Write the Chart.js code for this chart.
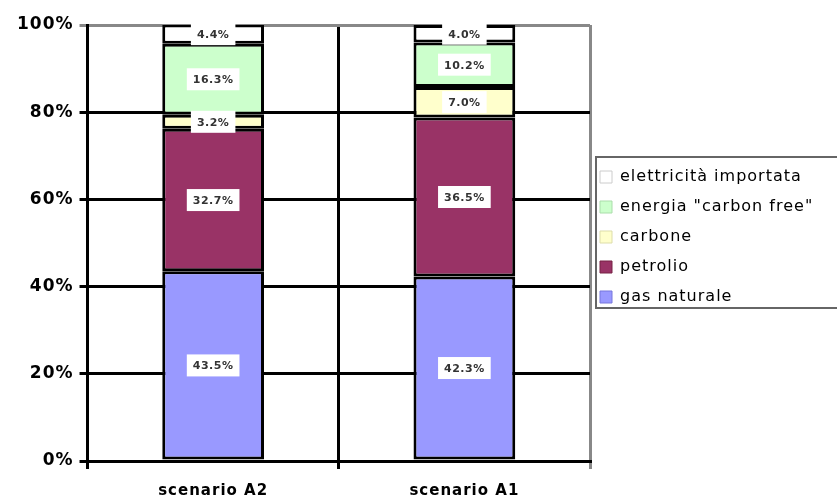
<!DOCTYPE html>
<html>
<head>
<meta charset="utf-8">
<script src="https://cdn.jsdelivr.net/npm/chart.js@4/dist/chart.umd.min.js"></script>
<style>
  html, body { margin: 0; padding: 0; background: #fff; }
  #wrap { width: 837px; height: 500px; position: relative; }
</style>
</head>
<body>
<div id="wrap"><canvas id="chartMix"></canvas></div>
<script>
// categories and series (percent of total)
var scenarios = ['scenario A2', 'scenario A1'];
var gasNaturale = [43.5, 42.3];
var petrolio = [32.7, 36.5];
var carbone = [3.2, 7.0];
var carbonFree = [16.3, 10.2];
var elettricita = [4.4, 4.0];
var yTicks = [0, 20, 40, 60, 80, 100];

var FONT = '"DejaVu Sans", "Liberation Sans", Arial, sans-serif';

// the original text is a bit stretched, widen it slightly
var wideText = {
    id: 'wideText',
    beforeLayout: function (chart) {
        chart.ctx.letterSpacing = '1px';
        var lg = chart.legend;
        if (lg && !lg._fitPatched) {
            var origFit = lg.fit;
            lg.fit = function () {
                origFit.call(this);
                this.width = 247;
            };
            lg._fitPatched = true;
        }
    },
    afterLayout: function (chart) {
        // put the legend block beside the plot, a bit above the middle
        var lg = chart.legend;
        lg.left = chart.chartArea.right - 4;
        lg.right = lg.left + 247;
        lg.top = 155;
        lg.bottom = 320;
        lg.height = lg.bottom - lg.top;
    },
    beforeDraw: function (chart) {
        chart.ctx.letterSpacing = '1px';
    }
};

// white boxed value labels in the middle of each segment
var segLabels = {
    id: 'segLabels',
    afterDatasetsDraw: function (chart) {
        var ctx = chart.ctx;
        ctx.save();
        ctx.letterSpacing = '0.5px';
        ctx.font = 'bold 11px ' + FONT;
        ctx.textAlign = 'center';
        ctx.textBaseline = 'middle';
        chart.data.datasets.forEach(function (ds, i) {
            var meta = chart.getDatasetMeta(i);
            meta.data.forEach(function (bar, j) {
                var txt = ds.data[j].toFixed(1) + '%';
                var cy = (bar.y + bar.base) / 2;
                var w = ctx.measureText(txt).width + 12;
                ctx.fillStyle = '#fff';
                ctx.fillRect(bar.x - w / 2, cy - 11, w, 22);
                ctx.fillStyle = '#333';
                ctx.fillText(txt, bar.x, cy + 1);
            });
        });
        ctx.restore();
    }
};

// frame around the legend
var legendFrame = {
    id: 'legendFrame',
    afterDraw: function (chart) {
        var lg = chart.legend;
        var ctx = chart.ctx;
        ctx.save();
        ctx.strokeStyle = '#666';
        ctx.lineWidth = 2;
        ctx.strokeRect(lg.left + 10, lg.top + 2, 260, 151);
        ctx.restore();
    }
};

// legend swatch outlines are soft, not black
var swatchEdges = ['#7777DD', '#772244', '#DDDDAA', '#AADDAA', '#CCCCCC'];

var ctx = document.getElementById('chartMix').getContext('2d');
var chartMix = new Chart(ctx, {
    type: 'bar',
    data: {
        labels: scenarios,
        datasets: [
            { label: 'gas naturale', data: gasNaturale, backgroundColor: '#9999FF' },
            { label: 'petrolio', data: petrolio, backgroundColor: '#993366' },
            { label: 'carbone', data: carbone, backgroundColor: '#FFFFCC' },
            { label: 'energia "carbon free"', data: carbonFree, backgroundColor: '#CCFFCC' },
            { label: 'elettricità importata', data: elettricita, backgroundColor: '#FFFFFF' }
        ].map(function (d) {
            d.borderColor = '#000';
            d.borderWidth = 3;
            d.borderSkipped = false;
            d.barPercentage = 0.405;
            d.categoryPercentage = 1;
            return d;
        })
    },
    options: {
        responsive: true,
        maintainAspectRatio: false,
        animation: false,
        layout: { padding: { top: 25, left: 11, right: 0, bottom: -13 } },
        plugins: {
            tooltip: { enabled: false },
            legend: {
                position: 'right',
                reverse: true,
                align: 'start',
                labels: {
                    boxWidth: 12,
                    boxHeight: 12,
                    padding: 14,
                    color: '#000',
                    font: { family: FONT, size: 16 },
                    generateLabels: function (chart) {
                        var items = Chart.defaults.plugins.legend.labels.generateLabels(chart);
                        items.forEach(function (it) {
                            it.strokeStyle = swatchEdges[it.datasetIndex];
                            it.lineWidth = 1;
                        });
                        return items;
                    }
                }
            }
        },
        scales: {
            x: {
                stacked: true,
                grid: {
                    // the closing line on the right is grey, like the top one
                    color: function (c) { return c.tick ? '#000' : '#888'; },
                    lineWidth: 3,
                    tickLength: 8,
                    offset: true
                },
                border: { color: '#000', width: 3 },
                ticks: {
                    color: '#000',
                    padding: 13,
                    font: { family: FONT, size: 15, weight: 'bold' }
                }
            },
            y: {
                stacked: true,
                min: 0,
                max: 100,
                afterBuildTicks: function (axis) {
                    axis.ticks = yTicks.map(function (v) { return { value: v }; });
                },
                grid: {
                    color: function (c) { return c.tick && c.tick.value === 100 ? '#888' : '#000'; },
                    lineWidth: 3,
                    tickLength: 8
                },
                border: { color: '#000', width: 3 },
                ticks: {
                    color: '#000',
                    padding: 6,
                    font: { family: FONT, size: 17, weight: 'bold' },
                    callback: function (v) { return v + '%'; }
                }
            }
        }
    },
    plugins: [wideText, segLabels, legendFrame]
});
</script>
</body>
</html>
